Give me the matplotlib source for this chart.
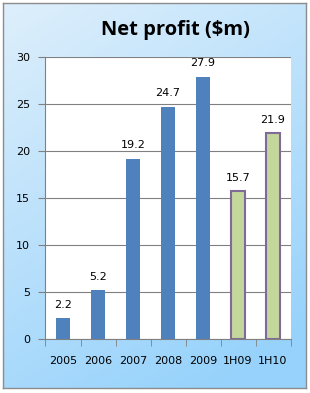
import numpy as np
import matplotlib
matplotlib.use("Agg")
import matplotlib.pyplot as plt

categories = ["2005", "2006", "2007", "2008", "2009", "1H09", "1H10"]
values = [2.2, 5.2, 19.2, 24.7, 27.9, 15.7, 21.9]
labels = ["2.2", "5.2", "19.2", "24.7", "27.9", "15.7", "21.9"]
yticks = [0, 5, 10, 15, 20, 25, 30]

W, H = 310, 393
fig = plt.figure(figsize=(W / 100, H / 100), dpi=100)
fig.patch.set_facecolor("white")

# gradient background frame
x0, y0, x1, y1 = 3, 3, 306, 388
bg = fig.add_axes([x0 / W, 1 - y1 / H, (x1 - x0) / W, (y1 - y0) / H])
ny, nx = 200, 200
yy, xx = np.mgrid[0:1:ny * 1j, 0:1:nx * 1j]
t = np.clip(0.75 * yy + 0.35 * xx, 0, 1)
c0 = np.array([222, 239, 252]) / 255
c1 = np.array([150, 210, 251]) / 255
img = c0[None, None, :] * (1 - t[..., None]) + c1[None, None, :] * t[..., None]
bg.imshow(img, aspect="auto", extent=[0, 1, 1, 0])
bg.set_xlim(0, 1)
bg.set_ylim(1, 0)
bg.set_xticks([])
bg.set_yticks([])
for s in bg.spines.values():
    s.set_color("#8c8c8c")
    s.set_linewidth(1.0)

ax = fig.add_axes([45.5 / W, 1 - 339 / H, (290.5 - 45.5) / W, (339 - 57) / H])
ax.set_facecolor("white")
x = np.arange(len(categories))
colors = ["#4f81bd"] * 5 + ["#c3d69b"] * 2
edges = ["#4f81bd"] * 5 + ["#7f6a98"] * 2
lws = [0] * 5 + [1.5] * 2
ax.bar(x, values, width=0.4, color=colors, edgecolor=edges, linewidth=lws, zorder=3)
for xi, v, lab in zip(x, values, labels):
    ax.annotate(lab, (xi, v), xytext=(0, 6), textcoords="offset points",
                ha="center", va="bottom", fontsize=8, color="#000000")

ax.set_xlim(-0.5, len(categories) - 0.5)
ax.set_ylim(0, 30)
ax.set_yticks(yticks)
ax.set_yticklabels([str(v) for v in yticks])
ax.yaxis.grid(True, color="#808080", linewidth=0.8, zorder=0)
ax.set_axisbelow(True)
ax.set_xticks(x)
ax.set_xticklabels(categories)
ax.set_xticks(np.arange(-0.5, len(categories)), minor=True)
ax.tick_params(axis="x", which="major", length=0, pad=12, labelsize=8)
ax.tick_params(axis="x", which="minor", length=5, color="#808080", direction="out")
ax.tick_params(axis="y", length=5, color="#808080", labelsize=8, pad=6)
for s in ["top", "right"]:
    ax.spines[s].set_visible(False)
for s in ["left", "bottom"]:
    ax.spines[s].set_color("#808080")
    ax.spines[s].set_linewidth(0.8)

fig.text(175 / W, 1 - 30 / H, "Net profit ($m)", ha="center", va="center",
         fontsize=14.5, fontweight="bold", family="Open Sans")

fig.savefig("out.png", dpi=100)
